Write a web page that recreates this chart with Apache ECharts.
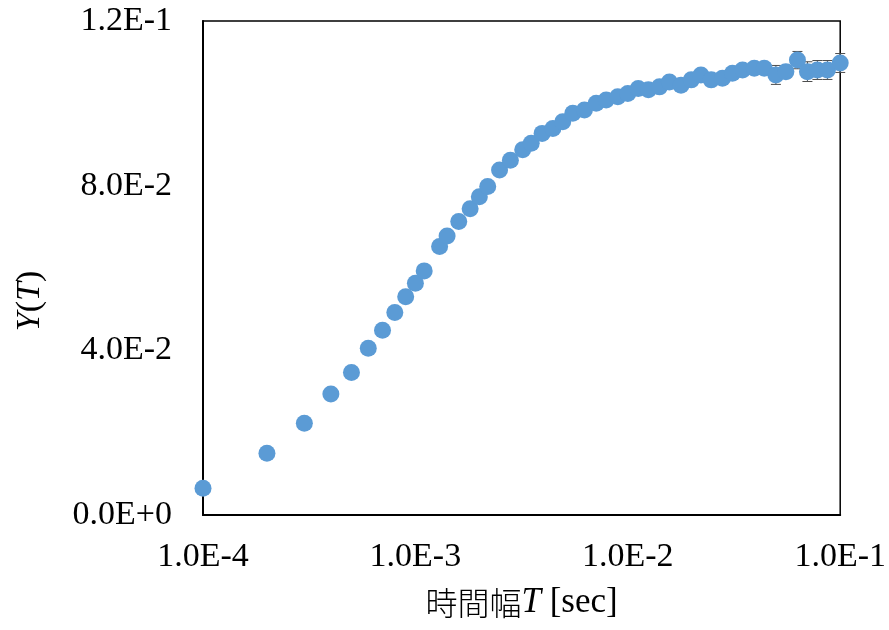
<!DOCTYPE html>
<html>
<head>
<meta charset="utf-8">
<style>
  html, body { margin: 0; padding: 0; background: #ffffff; }
  #chart { width: 889px; height: 630px; }
</style>
<script src="https://cdn.jsdelivr.net/npm/echarts@6/dist/echarts.min.js"></script>
</head>
<body>
<div id="chart"></div>
<script>
// Time width T [sec]
const timeWidth = [
  1.0e-4, 2.0e-4, 3.0e-4, 4.0e-4, 5.0e-4, 6.0e-4, 7.0e-4, 8.0e-4, 9.0e-4, 1.0e-3,
  1.1e-3, 1.3e-3, 1.41e-3, 1.6e-3, 1.81e-3, 2.0e-3, 2.19e-3, 2.49e-3, 2.8e-3, 3.2e-3,
  3.51e-3, 3.95e-3, 4.44e-3, 4.94e-3, 5.51e-3, 6.25e-3, 7.1e-3, 7.91e-3, 8.97e-3, 1.0e-2,
  1.12e-2, 1.25e-2, 1.41e-2, 1.57e-2, 1.78e-2, 1.99e-2, 2.21e-2, 2.47e-2, 2.79e-2, 3.11e-2,
  3.47e-2, 3.94e-2, 4.39e-2, 4.98e-2, 5.55e-2, 6.29e-2, 7.01e-2, 7.81e-2, 8.71e-2, 1.0e-1
];
// Y(T)
const yValues = [
  0.0065, 0.0150, 0.0223, 0.0294, 0.0346, 0.0405, 0.0449, 0.0492, 0.0530, 0.0563,
  0.0593, 0.0652, 0.0678, 0.0713, 0.0744, 0.0773, 0.0798, 0.0838, 0.0862, 0.0887,
  0.0903, 0.0927, 0.0939, 0.0955, 0.0976, 0.0984, 0.1000, 0.1008, 0.1016, 0.1024,
  0.1036, 0.1033, 0.1040, 0.1052, 0.1044, 0.1057, 0.1069, 0.1057, 0.1061, 0.1073,
  0.1081, 0.1085, 0.1085, 0.1069, 0.1077, 0.1105, 0.1077, 0.1081, 0.1081, 0.1098
];
// Error (± half width) of Y(T)
const yErrors = [
  0, 0, 0, 0, 0, 0, 0, 0, 0, 0,
  0, 0, 0, 0, 0, 0, 0, 0, 0, 0,
  0, 0, 0, 0, 0, 0, 0, 0, 0, 0,
  0, 0, 0, 0, 0, 0, 0, 0, 0, 0,
  0, 0, 0, 0.0023, 0.0015, 0.0021, 0.0024, 0.0023, 0.0023, 0.0023
];

const xTickLabels = ['1.0E-4', '1.0E-3', '1.0E-2', '1.0E-1'];
const yTickValues = [0, 0.04, 0.08, 0.12];
const yTickLabels = ['0.0E+0', '4.0E-2', '8.0E-2', '1.2E-1'];

const points = timeWidth.map((t, i) => [t, yValues[i]]);
const errorBars = timeWidth
  .map((t, i) => [t, yValues[i] - yErrors[i], yValues[i] + yErrors[i], yErrors[i]])
  .filter(d => d[3] > 0);

const serif = '"Liberation Serif", "Times New Roman", "Noto Sans CJK JP", serif';
const chart = echarts.init(document.getElementById('chart'), null, { renderer: 'canvas' });

chart.setOption({
  animation: false,
  backgroundColor: '#ffffff',
  grid: {
    left: 203, right: 48, top: 21, bottom: 115,
    show: true, borderColor: '#000000', borderWidth: 1.5, backgroundColor: 'transparent'
  },
  xAxis: {
    type: 'log',
    logBase: 10,
    min: 1e-4,
    max: 1e-1,
    name: '{cjk|時間幅}{it|T}{rm| [sec]}',
    nameLocation: 'middle',
    nameGap: 70,
    nameTextStyle: {
      rich: {
        cjk: { fontFamily: '"Noto Sans CJK JP", sans-serif', fontSize: 32, color: '#000', fontWeight: 300 },
        it: { fontFamily: serif, fontStyle: 'italic', fontSize: 35, color: '#000' },
        rm: { fontFamily: serif, fontSize: 35, color: '#000' }
      }
    },
    axisLine: { show: true, onZero: false, lineStyle: { color: '#000', width: 2 } },
    axisTick: { show: false },
    minorTick: { show: false },
    splitLine: { show: false },
    axisLabel: {
      margin: 25,
      fontFamily: serif,
      fontSize: 34,
      color: '#000',
      formatter: v => xTickLabels[Math.round(Math.log10(v)) + 4]
    }
  },
  yAxis: {
    type: 'value',
    min: 0,
    max: 0.12,
    interval: 0.04,
    axisLine: { show: true, lineStyle: { color: '#000', width: 2 } },
    axisTick: { show: false },
    splitLine: { show: false },
    axisLabel: {
      margin: 31,
      fontFamily: serif,
      fontSize: 34,
      color: '#000',
      formatter: v => {
        const idx = yTickValues.findIndex(t => Math.abs(t - v) < 1e-9);
        return idx >= 0 ? yTickLabels[idx] : '';
      }
    }
  },
  graphic: [{
    type: 'text',
    x: 30,
    y: 301,
    rotation: Math.PI / 2,
    style: {
      text: '{it|Y}{rm|(}{it|T}{rm|)}',
      align: 'center',
      verticalAlign: 'middle',
      rich: {
        it: { fontFamily: serif, fontStyle: 'italic', fontSize: 34, fill: '#000' },
        rm: { fontFamily: serif, fontSize: 34, fill: '#000' }
      }
    }
  }],
  series: [
    {
      type: 'custom',
      z: 1,
      clip: false,
      data: errorBars,
      renderItem: (params, api) => {
        const x = api.value(0);
        const lo = api.coord([x, api.value(1)]);
        const hi = api.coord([x, api.value(2)]);
        const half = 5;
        const style = { stroke: '#4d4d4d', lineWidth: 1 };
        return {
          type: 'group',
          children: [
            { type: 'line', shape: { x1: lo[0], y1: lo[1], x2: hi[0], y2: hi[1] }, style },
            { type: 'line', shape: { x1: lo[0] - half, y1: lo[1], x2: lo[0] + half, y2: lo[1] }, style },
            { type: 'line', shape: { x1: hi[0] - half, y1: hi[1], x2: hi[0] + half, y2: hi[1] }, style }
          ]
        };
      }
    },
    {
      type: 'scatter',
      z: 3,
      clip: false,
      symbol: 'circle',
      symbolSize: 17,
      itemStyle: { color: '#5B9BD5', opacity: 1 },
      data: points
    }
  ]
});
</script>
</body>
</html>
